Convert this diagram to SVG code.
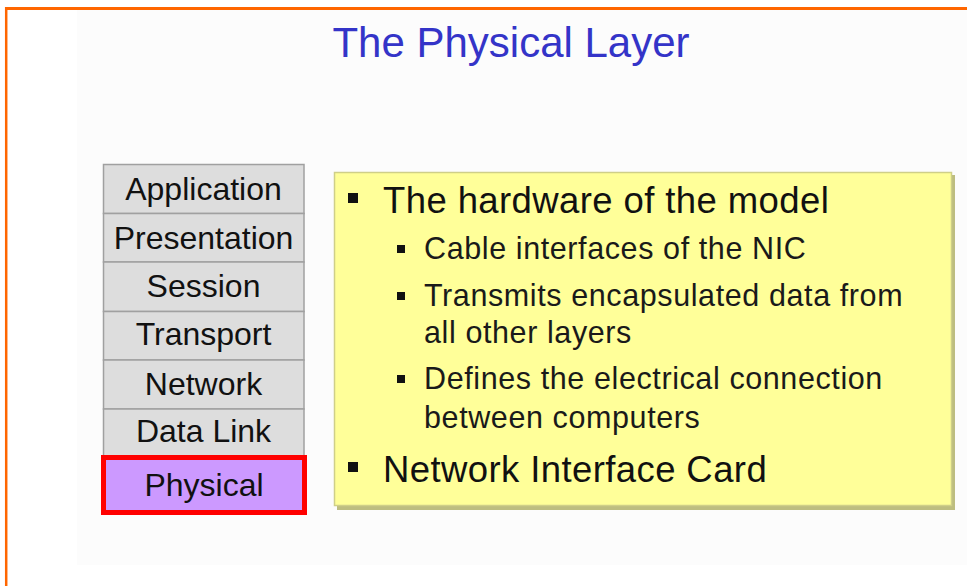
<svg xmlns="http://www.w3.org/2000/svg" width="967" height="586" viewBox="0 0 967 586">
<style>
.layer rect{fill:#dddddd;stroke:#a0a0a0;stroke-width:1.5}
.layer text{font-family:"Liberation Sans",Arial,sans-serif;font-size:32px;fill:#111;text-anchor:middle}
.b1{font-family:"Liberation Sans",Arial,sans-serif;font-size:36.5px;letter-spacing:0.4px;fill:#111}
.b2{font-family:"Liberation Sans",Arial,sans-serif;font-size:30.5px;letter-spacing:0.6px;fill:#1a1a1a}
.sq1{fill:#111}
.sq2{fill:#111}
</style>
<rect x="0" y="0" width="967" height="586" fill="#ffffff"/>
<rect x="77" y="10" width="890" height="555" fill="#fcfcfc"/>
<g id="frame">
<line x1="5" y1="8.5" x2="967" y2="8.5" stroke="#ff6600" stroke-width="3"/>
<line x1="6.2" y1="7" x2="6.2" y2="586" stroke="#ff6600" stroke-width="2.5"/>
</g>
<g id="title">
<text x="511" y="57" text-anchor="middle" font-family="Liberation Sans, Arial, sans-serif" font-size="42" fill="#3434c8">The Physical Layer</text>
</g>
<g id="application" class="layer"><rect x="103.5" y="164.5" width="200.5" height="49"/><text x="203.5" y="200">Application</text></g>
<g id="presentation" class="layer"><rect x="103.5" y="213.5" width="200.5" height="48.5"/><text x="203.5" y="249">Presentation</text></g>
<g id="session" class="layer"><rect x="103.5" y="262" width="200.5" height="49.5"/><text x="203.5" y="297">Session</text></g>
<g id="transport" class="layer"><rect x="103.5" y="311.5" width="200.5" height="48.5"/><text x="203.5" y="345">Transport</text></g>
<g id="network" class="layer"><rect x="103.5" y="360" width="200.5" height="49"/><text x="203.5" y="395">Network</text></g>
<g id="datalink" class="layer"><rect x="103.5" y="409" width="200.5" height="48"/><text x="203.5" y="442">Data Link</text></g>
<g id="physical">
<rect x="103.5" y="457.5" width="201" height="55" fill="#cc99ff" stroke="#ff0000" stroke-width="5"/>
<text x="204" y="496" text-anchor="middle" font-family="Liberation Sans, Arial, sans-serif" font-size="32" fill="#111">Physical</text>
</g>
<g id="description">
<rect x="337" y="175" width="618" height="335" fill="#bdbd80"/>
<rect x="334.5" y="172.5" width="617" height="333" fill="#ffff99" stroke="#cfcf88" stroke-width="1.5"/>
<rect class="sq1" x="348" y="193" width="10" height="10"/>
<text class="b1" x="383" y="212.5">The hardware of the model</text>
<rect class="sq2" x="397" y="245" width="8" height="8"/>
<text class="b2" x="424" y="259">Cable interfaces of the NIC</text>
<rect class="sq2" x="397" y="292" width="8" height="8"/>
<text class="b2" x="424" y="306">Transmits encapsulated data from</text>
<text class="b2" x="424" y="343">all other layers</text>
<rect class="sq2" x="397" y="375" width="8" height="8"/>
<text class="b2" x="424" y="389">Defines the electrical connection</text>
<text class="b2" x="424" y="428">between computers</text>
<rect class="sq1" x="348" y="462" width="10" height="10"/>
<text class="b1" x="383" y="481.5">Network Interface Card</text>
</g>
</svg>
